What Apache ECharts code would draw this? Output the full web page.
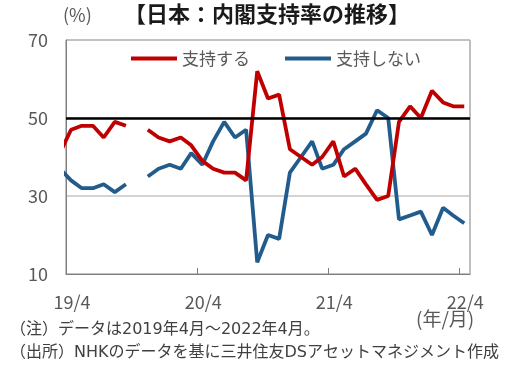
<!DOCTYPE html>
<html>
<head>
<meta charset="utf-8">
<script src="https://cdn.jsdelivr.net/npm/echarts@6/dist/echarts.min.js"></script>
<style>
html,body{margin:0;padding:0;background:#fff;}
#chart{width:512px;height:373px;}
</style>
</head>
<body>
<div id="chart"></div>
<script>
// Monthly survey (points placed mid-month); 2019-03 lies left of the axis start and is clipped
const months = ['2019-03','2019-04','2019-05','2019-06','2019-07','2019-08','2019-09','2019-10','2019-11','2019-12',
  '2020-01','2020-02','2020-03','2020-04','2020-05','2020-06','2020-07','2020-08','2020-09','2020-10','2020-11','2020-12',
  '2021-01','2021-02','2021-03','2021-04','2021-05','2021-06','2021-07','2021-08','2021-09','2021-10','2021-11','2021-12',
  '2022-01','2022-02','2022-03','2022-04'];
const support = [41,47,48,48,45,49,48,null,47,45,
  44,45,43,39,37,36,36,34,62,55,56,42,
  40,38,40,44,35,37,33,29,30,49,53,50,
  57,54,53,53];
const nonSupport = [37,34,32,32,33,31,33,null,35,37,
  38,37,41,38,44,49,45,47,13,20,19,36,
  40,44,37,38,42,44,46,52,50,24,25,26,
  20,27,25,23];
const seriesNames = ['支持する','支持しない'];
const axisStart = '2019-04-01';
const axisEnd = '2022-05-01';
const tickDates = ['2020-04-01','2021-04-01','2022-04-01'];
const labelDates = ['2019-04-01','2020-04-01','2021-04-01','2022-04-01'];
const yMin = 10, yMax = 70, yStep = 20;
const refLine = 50;

const ts = s => { const p = s.split('-').map(Number); return Date.UTC(p[0], p[1]-1, p[2] || 15); };
const toPairs = vals => months.map((m, i) => [ts(m + '-15'), vals[i] == null ? '-' : vals[i]]);

const chart = echarts.init(document.getElementById('chart'));
const font = '"Noto Sans CJK JP","Noto Sans",sans-serif';
const noteFont = '"DejaVu Sans","Noto Sans CJK JP",sans-serif';
chart.setOption({
  animation: false,
  textStyle: {fontFamily: font},
  grid: {left: 66, right: 42, top: 40, bottom: 99, show: true, borderColor: '#7f7f7f', borderWidth: 1},
  legend: {
    left: 126, top: 45, itemGap: 35, itemWidth: 46, itemHeight: 4, icon: 'rect',
    textStyle: {fontSize: 17, color: '#595959', fontFamily: font},
    data: seriesNames
  },
  xAxis: {
    type: 'value', min: ts(axisStart), max: ts(axisEnd),
    axisLine: {lineStyle: {color: '#7f7f7f', width: 1}},
    axisTick: {show: true, inside: true, length: 6, lineStyle: {color: '#7f7f7f'},
      customValues: tickDates.map(ts)},
    axisLabel: {
      customValues: labelDates.map(ts),
      fontSize: 18, color: '#595959', margin: 19, padding: [0, 0, 0, 12],
      formatter: v => { const d = new Date(v); return String(d.getUTCFullYear()).slice(2) + '/' + (d.getUTCMonth() + 1); }
    },
    splitLine: {show: false}
  },
  yAxis: {
    type: 'value', min: yMin, max: yMax, interval: yStep,
    axisLine: {show: true, lineStyle: {color: '#7f7f7f'}},
    axisTick: {show: false},
    axisLabel: {fontSize: 18, color: '#595959', margin: 18},
    splitLine: {show: true, lineStyle: {color: '#c4c4c4', width: 1.5}}
  },
  series: [
    {
      name: seriesNames[0], type: 'line', data: toPairs(support),
      symbol: 'none', clip: true, connectNulls: false,
      lineStyle: {color: '#C00000', width: 3.8}, itemStyle: {color: '#C00000'},
      markLine: {silent: true, symbol: 'none', label: {show: false},
        lineStyle: {color: '#000', width: 2.5, type: 'solid'},
        data: [{yAxis: refLine}]},
      z: 3
    },
    {
      name: seriesNames[1], type: 'line', data: toPairs(nonSupport),
      symbol: 'none', clip: true, connectNulls: false,
      lineStyle: {color: '#215C8C', width: 3.8}, itemStyle: {color: '#215C8C'},
      z: 2
    }
  ],
  graphic: [
    {type: 'text', left: 63, top: 6, style: {text: '(%)', fontSize: 18, fill: '#595959', fontFamily: font}},
    {type: 'text', left: 124, top: 3, style: {text: '【日本：内閣支持率の推移】', fontSize: 22, fontWeight: 'bold', fill: '#1a1a1a', fontFamily: font}},
    {type: 'text', left: 416, top: 309, style: {text: '(年/月)', fontSize: 19, fill: '#595959', fontFamily: font}},
    {type: 'text', left: 10, top: 322, style: {text: '（注）データは2019年4月～2022年4月。', fontSize: 16, fill: '#404040', fontFamily: noteFont}},
    {type: 'text', left: 10, top: 345, style: {text: '（出所）NHKのデータを基に三井住友DSアセットマネジメント作成', fontSize: 16, fill: '#404040', fontFamily: noteFont}}
  ]
});
</script>
</body>
</html>
